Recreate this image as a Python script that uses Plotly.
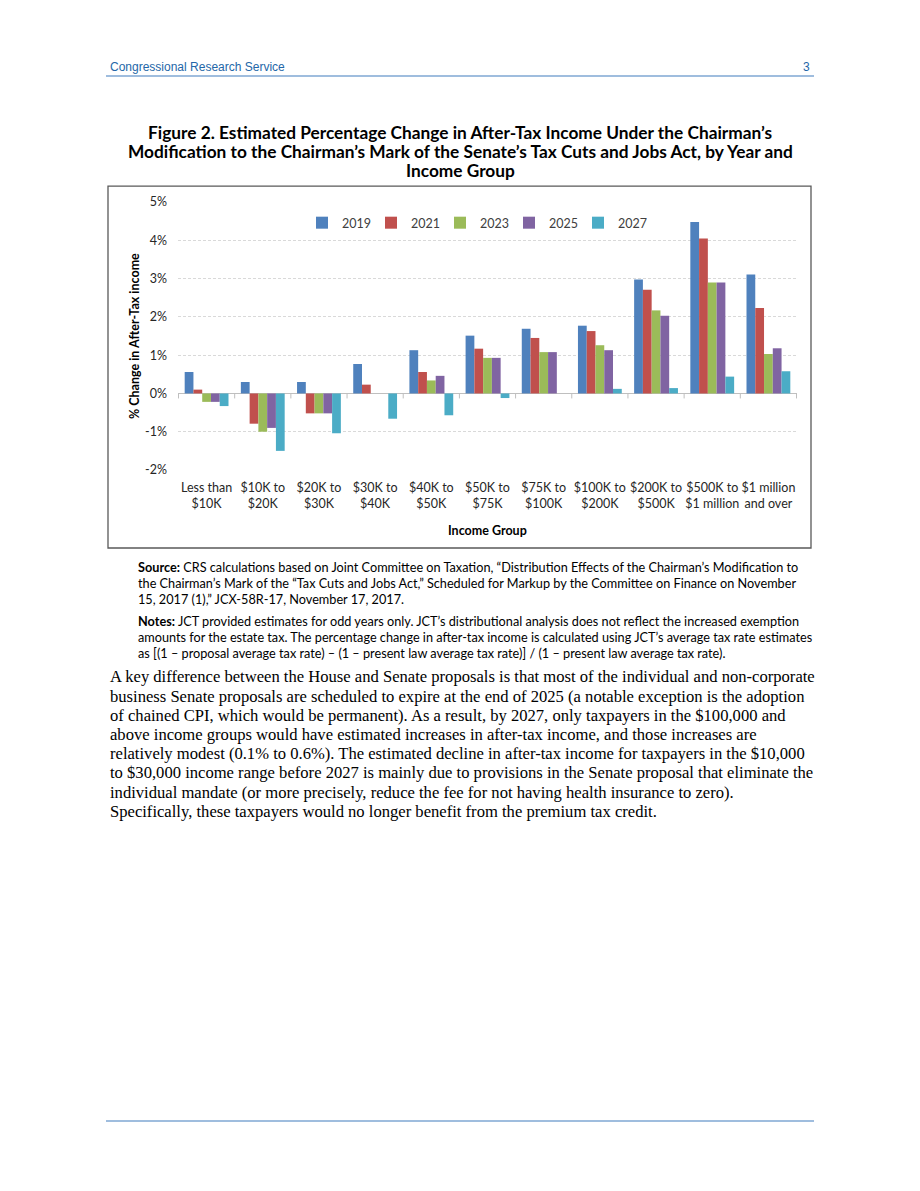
import plotly.graph_objects as go

# ---------------- data ----------------
categories = ["Less than<br>$10K", "$10K to<br>$20K", "$20K to<br>$30K", "$30K to<br>$40K",
              "$40K to<br>$50K", "$50K to<br>$75K", "$75K to<br>$100K", "$100K to<br>$200K",
              "$200K to<br>$500K", "$500K to<br>$1 million", "$1 million<br>and over"]
years = ["2019", "2021", "2023", "2025", "2027"]
y2019 = [0.56, 0.30, 0.30, 0.77, 1.13, 1.51, 1.69, 1.77, 2.98, 4.48, 3.11]
y2021 = [0.10, -0.79, -0.52, 0.23, 0.56, 1.17, 1.45, 1.63, 2.71, 4.05, 2.23]
y2023 = [-0.22, -1.00, -0.52, 0.00, 0.34, 0.93, 1.08, 1.26, 2.17, 2.90, 1.03]
y2025 = [-0.22, -0.90, -0.52, 0.00, 0.46, 0.93, 1.08, 1.13, 2.03, 2.90, 1.18]
y2027 = [-0.33, -1.50, -1.04, -0.66, -0.57, -0.12, 0.00, 0.12, 0.14, 0.44, 0.58]
series = [y2019, y2021, y2023, y2025, y2027]
colors = ["#4F81BD", "#C0504D", "#9BBB59", "#8064A2", "#4BACC6"]
y_tickvals = [-2, -1, 0, 1, 2, 3, 4, 5]
y_ticktext = ["-2%", "-1%", "0%", "1%", "2%", "3%", "4%", "5%"]

title_lines = [
    "Figure 2. Estimated Percentage Change in After-Tax Income Under the Chairman’s",
    "Modification to the Chairman’s Mark of the Senate’s Tax Cuts and Jobs Act, by Year and",
    "Income Group",
]
source_lines = [
    "<b>Source:</b> CRS calculations based on Joint Committee on Taxation, “Distribution Effects of the Chairman’s Modification to",
    "the Chairman’s Mark of the “Tax Cuts and Jobs Act,” Scheduled for Markup by the Committee on Finance on November",
    "15, 2017 (1),” JCX-58R-17, November 17, 2017.",
]
notes_lines = [
    "<b>Notes:</b> JCT provided estimates for odd years only. JCT’s distributional analysis does not reflect the increased exemption",
    "amounts for the estate tax. The percentage change in after-tax income is calculated using JCT’s average tax rate estimates",
    "as [(1 – proposal average tax rate) – (1 – present law average tax rate)] / (1 – present law average tax rate).",
]
body_lines = [
    "A key difference between the House and Senate proposals is that most of the individual and non-corporate",
    "business Senate proposals are scheduled to expire at the end of 2025 (a notable exception is the adoption",
    "of chained CPI, which would be permanent). As a result, by 2027, only taxpayers in the $100,000 and",
    "above income groups would have estimated increases in after-tax income, and those increases are",
    "relatively modest (0.1% to 0.6%). The estimated decline in after-tax income for taxpayers in the $10,000",
    "to $30,000 income range before 2027 is mainly due to provisions in the Senate proposal that eliminate the",
    "individual mandate (or more precisely, reduce the fee for not having health insurance to zero).",
    "Specifically, these taxpayers would no longer benefit from the premium tax credit.",
]

W, H = 920, 1191
def px(x):
    return x / W
def ymap(y):
    # page-pixel position -> layout pixel (compensates vertical framing of the capture)
    return (y - 6.9) / 0.9876
def py(y):
    return 1 - ymap(y) / H

SANS = "Lato, 'Open Sans', sans-serif"
SERIF = "'Liberation Serif', 'Times New Roman', serif"

fig = go.Figure()
for name, vals, col in zip(years, series, colors):
    fig.add_trace(go.Bar(x=categories, y=vals, name=name, marker=dict(color=col, line=dict(width=0))))

plot_l, plot_r, plot_t, plot_b = 178, 797, 201, 469

fig.update_layout(
    width=W, height=H,
    margin=dict(l=0, r=0, t=0, b=0),
    paper_bgcolor="white", plot_bgcolor="white",
    barmode="group", bargap=0.22, bargroupgap=0,
    font=dict(family=SANS, color="#333333"),
    showlegend=True,
    legend=dict(orientation="h", x=px(302), y=py(222), xanchor="left", yanchor="middle",
                font=dict(family=SANS, size=12.5, color="#404040"),
                entrywidth=24, entrywidthmode="pixels", itemwidth=30,
                bgcolor="rgba(0,0,0,0)", borderwidth=0, traceorder="normal"),
    xaxis=dict(domain=[px(plot_l), px(plot_r)], showline=False, showgrid=False, zeroline=False,
               ticks="", tickfont=dict(family=SANS, size=12.5, color="#262626"),
               ticklabelstandoff=8, fixedrange=True),
    yaxis=dict(domain=[py(plot_b), py(plot_t)], range=[-2, 5], tickvals=y_tickvals, ticktext=y_ticktext,
               showgrid=True, gridcolor="#D9D9D9", gridwidth=1, griddash="3px,2px",
               zeroline=True, zerolinecolor="#BFBFBF", zerolinewidth=1, showline=False,
               ticks="", tickfont=dict(family=SANS, size=12.5, color="#262626"),
               ticklabelstandoff=10, fixedrange=True),
)

# tick marks on category axis (at boundaries along zero line)
for i in range(len(categories) + 1):
    fig.add_shape(type="line", xref="x", yref="y", x0=i - 0.5, x1=i - 0.5,
                  ysizemode="pixel", yanchor=0, y0=0, y1=-5,
                  line=dict(color="#BFBFBF", width=1))

shapes_paper = [
    dict(x0=px(106), x1=px(814), y0=py(75), y1=py(75), color="#7FA7D3", width=1.5),
    dict(x0=px(106), x1=px(814), y0=py(1120), y1=py(1120), color="#7FA7D3", width=1.5),
]
for s in shapes_paper:
    fig.add_shape(type="line", xref="paper", yref="paper", x0=s["x0"], x1=s["x1"], y0=s["y0"], y1=s["y1"],
                  line=dict(color=s["color"], width=s["width"]))
# chart border
fig.add_shape(type="rect", xref="paper", yref="paper", x0=px(108), x1=px(811), y0=py(547), y1=py(185),
              line=dict(color="#595959", width=1.3), fillcolor="rgba(0,0,0,0)", layer="below")

def ann(text, x, y, size, family=SANS, color="#000000", xanchor="left", **kw):
    fig.add_annotation(text=text, x=px(x), y=py(y), xref="paper", yref="paper", showarrow=False,
                       xanchor=xanchor, yanchor="middle", font=dict(family=family, size=size, color=color), **kw)

# header
ann("Congressional Research Service", 108, 66, 12, family="'Liberation Sans', Arial, sans-serif", color="#2467A8")
ann("3", 812, 66, 12, family="'Liberation Sans', Arial, sans-serif", color="#2467A8", xanchor="right")

# title
for i, t in enumerate(title_lines):
    ann("<b>" + t + "</b>", 460, 131 + 19 * i, 17.3, xanchor="center")

# axis titles
ann("<b>% Change in After-Tax income</b>", 134, 335, 12.5, xanchor="center", textangle=-90)
ann("<b>Income Group</b>", (plot_l + plot_r) / 2, 530, 12.5, xanchor="center")

# source / notes
for i, t in enumerate(source_lines):
    ann(t, 136, 566 + 16 * i, 12.7)
for i, t in enumerate(notes_lines):
    ann(t, 136, 620 + 16 * i, 12.7)

# body
for i, t in enumerate(body_lines):
    ann(t, 108, 676 + 19.2 * i, 16.6, family=SERIF)

fig.write_html("out.html", config={"displayModeBar": False},
               post_script="document.body.style.margin='0';document.body.style.padding='0';")
